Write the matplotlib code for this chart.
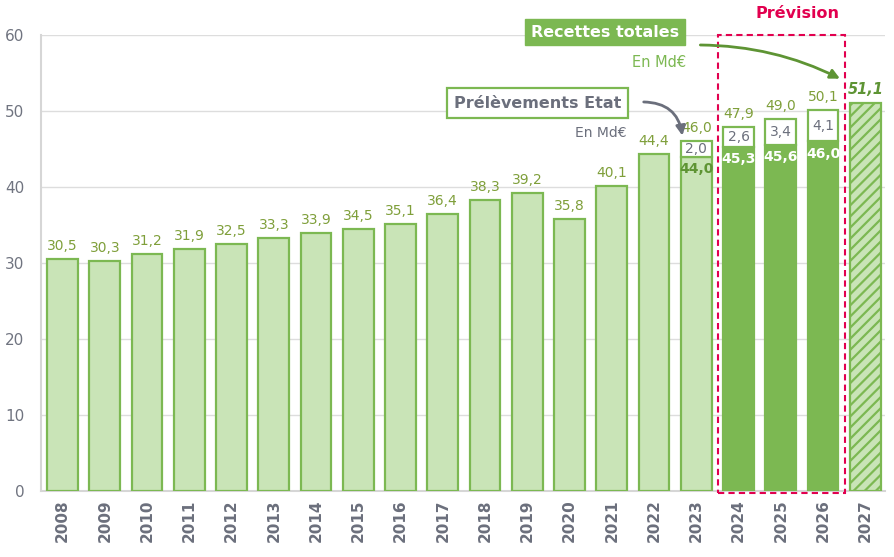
import matplotlib.pyplot as plt
from matplotlib.patches import Rectangle

# Data (Md€)
years = [str(y) for y in range(2008, 2028)]
totals = [30.5, 30.3, 31.2, 31.9, 32.5, 33.3, 33.9, 34.5, 35.1, 36.4,
          38.3, 39.2, 35.8, 40.1, 44.4, 46.0, 47.9, 49.0, 50.1, 51.1]
# split of total into "Prélèvements Etat" + rest, for 2023-2026
split_years = ["2023", "2024", "2025", "2026"]
prelevements = [44.0, 45.3, 45.6, 46.0]
reste = [2.0, 2.6, 3.4, 4.1]

LIGHT = "#c9e4b7"
GREEN = "#7cb852"
DARK_TXT = "#5e9434"
VAL_TXT = "#7f9f3a"
GRAY = "#6b6f7c"
RED = "#e2004f"

plt.rcParams["hatch.linewidth"] = 1.6


def fmt(v):
    return f"{v:.1f}".replace(".", ",")


fig = plt.figure(figsize=(8.95, 5.57), dpi=100)
ax = fig.add_axes([0.0458, 0.1185, 0.9432, 0.8185])

x = list(range(len(years)))
w = 0.73

for i, yr in enumerate(years):
    if yr in split_years:
        k = split_years.index(yr)
        base = prelevements[k]
        if yr == "2023":
            ax.bar(i, base, w, color=LIGHT, edgecolor=GREEN, linewidth=1.6, zorder=3)
            txt_col = DARK_TXT
        else:
            ax.bar(i, base, w, color=GREEN, edgecolor=GREEN, linewidth=1.6, zorder=3)
            txt_col = "white"
        ax.text(i, base - 0.7, fmt(base), ha="center", va="top",
                fontsize=10, fontweight="bold", color=txt_col, zorder=5)
        ax.bar(i, reste[k], w, bottom=base, color="white", edgecolor=GREEN,
               linewidth=1.6, zorder=3)
        ax.text(i, base + reste[k] / 2, fmt(reste[k]),
                ha="center", va="center", fontsize=10, color=GRAY, zorder=5)
        ax.text(i, totals[i] + 0.8, fmt(totals[i]), ha="center",
                va="bottom", fontsize=10, color=VAL_TXT, zorder=5)
    elif yr == "2027":
        ax.bar(i, totals[i], w, color=LIGHT, edgecolor=GREEN, linewidth=1.6,
               hatch="///", zorder=3)
        ax.text(i, totals[i] + 0.8, fmt(totals[i]), ha="center",
                va="bottom", fontsize=10.5, fontweight="bold", fontstyle="italic",
                color=DARK_TXT, zorder=5)
    else:
        ax.bar(i, totals[i], w, color=LIGHT, edgecolor=GREEN, linewidth=1.6, zorder=3)
        ax.text(i, totals[i] + 0.8, fmt(totals[i]), ha="center",
                va="bottom", fontsize=10, color=VAL_TXT, zorder=5)

ax.set_xlim(-0.51, 19.47)
ax.set_ylim(0, 60)
ax.set_yticks(range(0, 61, 10))
ax.set_xticks(x)
ax.set_xticklabels(years, rotation=90, fontsize=11, fontweight="bold", color=GRAY)
ax.tick_params(axis="y", labelsize=11, colors="#707480", length=0, pad=12)
ax.tick_params(axis="x", length=0, pad=6)
ax.grid(axis="y", color="#dddddd", linewidth=1, zorder=0)
ax.set_axisbelow(True)
for side in ["top", "right"]:
    ax.spines[side].set_visible(False)
for side in ["left", "bottom"]:
    ax.spines[side].set_color("#d6d6d6")
    ax.spines[side].set_linewidth(1.5)

# Forecast box
ax.add_patch(Rectangle((15.51, -0.25), 3.01, 60.25, fill=False, edgecolor=RED,
                       linestyle=(0, (3, 2)), linewidth=1.5, clip_on=False, zorder=6))
ax.text(17.39, 62.9, "Prévision", ha="center", va="center", fontsize=11.5,
        fontweight="bold", color=RED, clip_on=False)

# Recettes totales annotation
ax.text(12.84, 60.4, "Recettes totales", ha="center", va="center", fontsize=11.5,
        fontweight="bold", color="white", clip_on=False, zorder=7,
        bbox=dict(boxstyle="square,pad=0.35", facecolor=GREEN, edgecolor=GREEN))
ax.text(14.75, 56.4, "En Md€", ha="right", va="center", fontsize=10.5,
        color=GREEN, zorder=7)
ax.annotate("", xy=(18.46, 54.1), xytext=(15.03, 58.7),
            arrowprops=dict(arrowstyle="-|>", color="#5e9434", lw=2,
                            mutation_scale=14, connectionstyle="arc3,rad=-0.12"),
            zorder=7)

# Prélèvements Etat annotation
ax.text(11.24, 51.05, "Prélèvements Etat", ha="center", va="center", fontsize=11.5,
        fontweight="bold", color=GRAY, zorder=7,
        bbox=dict(boxstyle="square,pad=0.45", facecolor="white", edgecolor=GREEN,
                  linewidth=1.6))
ax.text(13.34, 47.1, "En Md€", ha="right", va="center", fontsize=10,
        color=GRAY, zorder=7)
ax.annotate("", xy=(14.68, 46.4), xytext=(13.69, 51.2),
            arrowprops=dict(arrowstyle="-|>", color=GRAY, lw=2,
                            mutation_scale=14, connectionstyle="arc3,rad=-0.45"),
            zorder=7)

fig.savefig("out.png", dpi=100)
